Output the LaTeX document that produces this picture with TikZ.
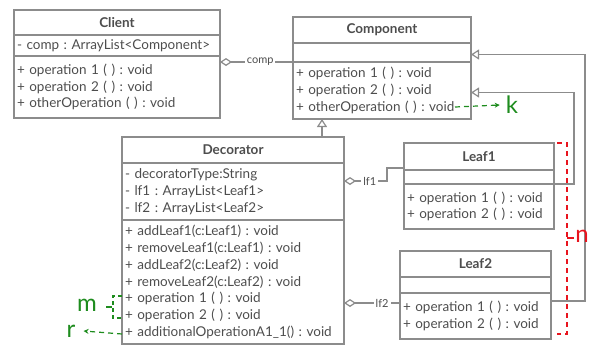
\documentclass[tikz,border=0pt]{standalone}
\usepackage{fontspec}
\setmainfont{Lato}
\usetikzlibrary{arrows.meta}
\frenchspacing

\definecolor{umlline}{HTML}{8C8C8C}
\definecolor{umltext}{HTML}{4D4D4D}
\definecolor{notegreen}{HTML}{1E8C1E}
\definecolor{notered}{HTML}{E8141E}

\tikzset{
  classtitle/.style={draw=umlline, line width=1.2pt, outer sep=0pt, anchor=north west,
    font=\bfseries\fontsize{13.5}{15}\selectfont, text=umltext},
  classpart/.style={draw=umlline, line width=1.2pt, outer sep=0pt, inner xsep=3pt, inner ysep=0pt,
    anchor=north, align=left, font=\fontsize{13.5}{16.7}\selectfont, text=umltext},
  aggr/.style={draw=umlline, line width=1.2pt, {Diamond[open,length=12pt,width=8pt]}-},
  gen/.style={draw=umlline, line width=1.2pt, -{Triangle[open,length=8pt,width=10pt]}},
  lbl/.style={fill=white, inner sep=2pt, font=\fontsize{11}{12}\selectfont, text=umltext},
  note/.style={line width=1.2pt, dash pattern=on 5pt off 4pt},
  notetext/.style={inner sep=0pt, font=\fontsize{24}{24}\selectfont},
}

\begin{document}
\begin{tikzpicture}[x=1pt,y=-1pt]
  \useasboundingbox (0,0) rectangle (589,346);

  % Client
  \node[classtitle, minimum width=206pt, minimum height=25pt] (client) at (14,10) {Client};
  \node[classpart, text width=200pt, minimum height=21pt] (client-attr) at (client.south) {- comp : ArrayList<Component>};
  \node[classpart, text width=200pt, minimum height=62pt] (client-ops) at (client-attr.south)
    {+ operation 1 ( ) : void\\+ operation 2 ( ) : void\\+ otherOperation ( ) : void};

  % Component
  \node[classtitle, minimum width=178pt, minimum height=26pt] (component) at (293,17) {Component};
  \node[classpart, text width=172pt, minimum height=19pt] (component-attr) at (component.south) {};
  \node[classpart, text width=172pt, minimum height=57pt] (component-ops) at (component-attr.south)
    {+ operation 1 ( ) : void\\+ operation 2 ( ) : void\\+ otherOperation ( ) : void};

  % Decorator
  \node[classtitle, minimum width=222pt, minimum height=26pt] (decorator) at (122,137) {Decorator};
  \node[classpart, text width=216pt, minimum height=57pt] (decorator-attr) at (decorator.south)
    {- decoratorType:String\\- lf1 : ArrayList<Leaf1>\\- lf2 : ArrayList<Leaf2>};
  \node[classpart, text width=216pt, minimum height=124pt] (decorator-ops) at (decorator-attr.south)
    {+ addLeaf1(c:Leaf1) : void\\+ removeLeaf1(c:Leaf1) : void\\+ addLeaf2(c:Leaf2) : void\\
     + removeLeaf2(c:Leaf2) : void\\+ operation 1 ( ) : void\\+ operation 2 ( ) : void\\
     + additionalOperationA1\_1() : void};

  % Leaf1
  \node[classtitle, minimum width=150pt, minimum height=27pt] (leaf1) at (404,143) {Leaf1};
  \node[classpart, text width=144pt, minimum height=14pt] (leaf1-attr) at (leaf1.south) {};
  \node[classpart, text width=144pt, minimum height=45pt] (leaf1-ops) at (leaf1-attr.south)
    {+ operation 1 ( ) : void\\+ operation 2 ( ) : void};

  % Leaf2
  \node[classtitle, minimum width=151pt, minimum height=26pt] (leaf2) at (400,251) {Leaf2};
  \node[classpart, text width=145pt, minimum height=16pt] (leaf2-attr) at (leaf2.south) {};
  \node[classpart, text width=145pt, minimum height=46pt] (leaf2-ops) at (leaf2-attr.south)
    {+ operation 1 ( ) : void\\+ operation 2 ( ) : void};

  % aggregations
  \draw[aggr] ([yshift=-6pt]client-ops.north east) -- node[lbl, pos=0.55] {comp} (component-ops.north west);
  \draw[aggr] ([yshift=-18pt]decorator-attr.north east) -- node[lbl, pos=0.6] {lf1} ++(43,0)
    |- ([yshift=2pt]leaf1.south west);
  \draw[aggr] ([yshift=41pt]decorator-ops.south east) -- node[lbl, pos=0.68] {lf2} ([yshift=-10pt]leaf2-ops.north west);

  % generalizations
  \coordinate (dec-up) at ([xshift=-22pt]decorator.north east);
  \draw[gen] (dec-up) -- (dec-up |- component-ops.south);
  \draw[gen] (leaf1-ops.north east) -- ++(20,0) |- ([yshift=-2pt]component-ops.east);
  \draw[gen] ([yshift=-8pt]leaf2-ops.north east) -- ++(34,0) |- ([yshift=-2pt]component-attr.east);

  % notes
  \coordinate (k-from) at (455,107);
  \node[notetext, text=notegreen] (k) at (512,105) {k};
  \draw[note, notegreen, -{Stealth[length=5pt,width=5pt]}] (k-from) -- ([xshift=-6pt]k.west);

  \node[notetext, text=notegreen] (m) at (87,305) {m};
  \draw[note, notegreen, dash pattern=on 4pt off 3pt] (122,296) -- (113,296) -- (113,318) -- (122,318);
  \draw[notegreen, line width=1.2pt] (106,307) -- (112,307);

  \coordinate (r-from) at ([yshift=10pt]decorator-ops.south west);
  \node[notetext, text=notegreen] (r) at (71,331) {r};
  \draw[note, notegreen, -{Stealth[length=5pt,width=5pt]}] (r-from) -- ([xshift=8pt]r.east);

  \draw[note, notered] (557,143) -- (567,143) -- (567,334) -- (557,334);
  \draw[notered, line width=1.2pt] (567,238) -- (574,238);
  \node[notetext, text=notered] (n) at (582,236) {n};
\end{tikzpicture}
\end{document}
